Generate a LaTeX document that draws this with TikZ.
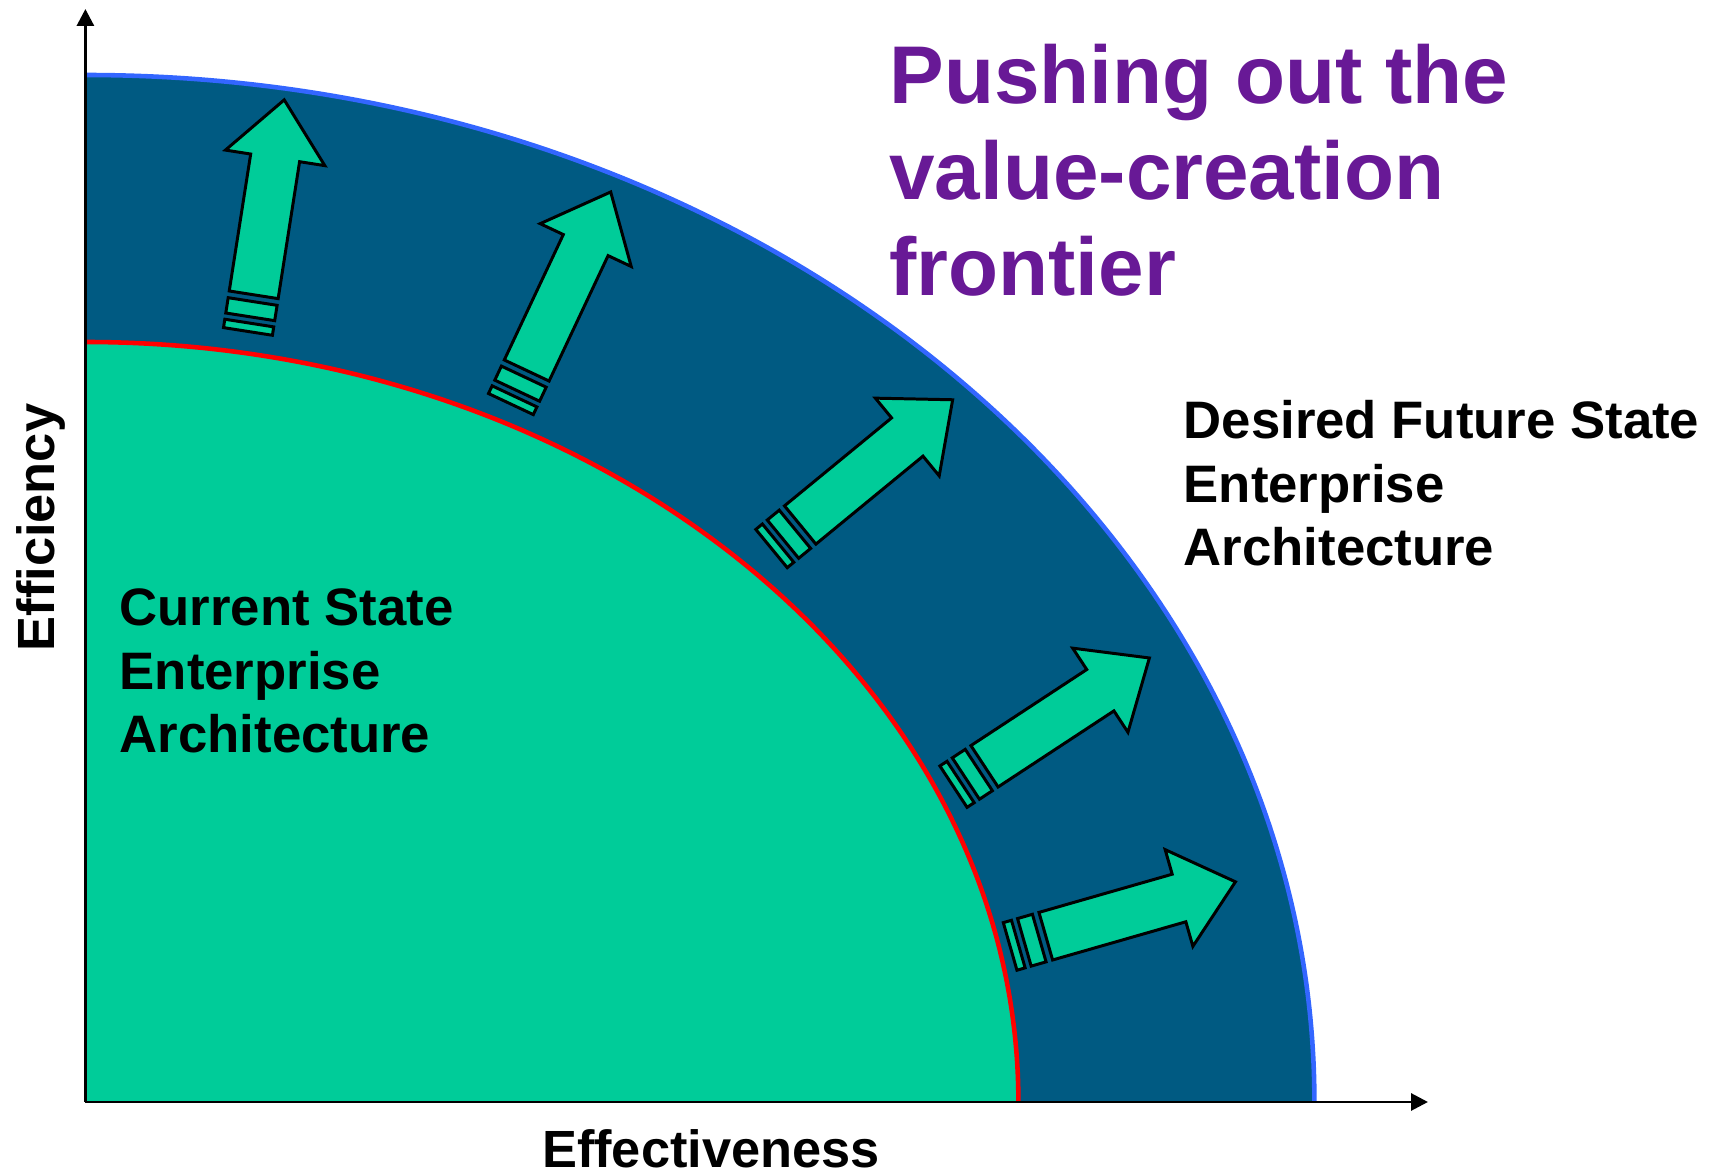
\documentclass[tikz,border=0pt]{standalone}
\usepackage{fontspec}
\setmainfont{Liberation Sans}
\usetikzlibrary{arrows.meta}

\definecolor{FrontierBlue}{RGB}{0,90,130}
\definecolor{StateGreen}{RGB}{0,204,153}
\definecolor{EdgeBlue}{RGB}{51,102,255}
\definecolor{TitlePurple}{RGB}{104,25,150}

\tikzset{
  axisline/.style={black, line width=0.85pt, -{Triangle[length=0.17cm,width=0.17cm]}},
  arrowpart/.style={draw=black, line width=0.85pt, fill=StateGreen, line join=miter},
  statelabel/.style={anchor=base west, align=left, inner sep=0pt, font=\bfseries\fontsize{15}{18.1}\selectfont},
  axislabel/.style={anchor=base, inner sep=0pt, font=\bfseries\fontsize{14.9}{17}\selectfont},
}

% one push arrow: tail centre (#1,#2), direction #3
\newcommand{\pusharrow}[3]{%
  \begin{scope}[shift={(#1,#2)}, rotate=#3]
    \draw[arrowpart] (0,-0.2475) -- (1.386,-0.2475) -- (1.386,-0.503) -- (1.973,0)
        -- (1.386,0.503) -- (1.386,0.2475) -- (0,0.2475) -- cycle;
    \draw[arrowpart] (-0.223,-0.2475) rectangle (-0.068,0.2475);
    \draw[arrowpart] (-0.371,-0.2475) rectangle (-0.286,0.2475);
  \end{scope}}

\begin{document}
\begin{tikzpicture}
\useasboundingbox (0,0) rectangle (17.16,11.74);

\coordinate (origin) at (0.854,0.72);
\coordinate (ytip) at (0.854,11.65);
\coordinate (xtip) at (14.28,0.72);

% ============================
\fill[FrontierBlue] (origin) -- (13.144,0.72)
    arc[start angle=0, end angle=90, x radius=12.29, y radius=10.27] -- cycle;
\draw[EdgeBlue, line width=1.3pt] (13.144,0.72)
    arc[start angle=0, end angle=90, x radius=12.29, y radius=10.27];

\fill[StateGreen] (origin) -- (10.184,0.72)
    arc[start angle=0, end angle=90, x radius=9.33, y radius=7.60] -- cycle;
\draw[red, line width=1.3pt] (10.184,0.72)
    arc[start angle=0, end angle=90, x radius=9.33, y radius=7.60];

% ============================
\pusharrow{2.537}{8.792}{81.1}
\pusharrow{5.267}{8.035}{64.8}
\pusharrow{8.002}{6.490}{39.4}
\pusharrow{9.845}{4.077}{33.3}
\pusharrow{10.458}{2.378}{16}

% ============================
\draw[axisline] (origin) -- (ytip);
\draw[axisline] (origin) -- (xtip);

\node[axislabel, rotate=90] (efficiency) at (0.544,6.465) {Efficiency};
\node[axislabel] (effectiveness) at (7.11,0.06) {Effectiveness};

% ============================
% base anchor = baseline of the last line
\node[statelabel] (current) at (1.19,4.21)
    {Current State\\Enterprise\\Architecture};
\node[statelabel] (desired) at (11.83,6.082)
    {Desired Future State\\Enterprise\\Architecture};

\node[anchor=base west, align=left, inner sep=0pt, text=TitlePurple,
      font=\bfseries\fontsize{23.3}{27.3}\selectfont] (title) at (8.887,8.785)
    {Pushing out the\\value-creation\\frontier};

\end{tikzpicture}
\end{document}
